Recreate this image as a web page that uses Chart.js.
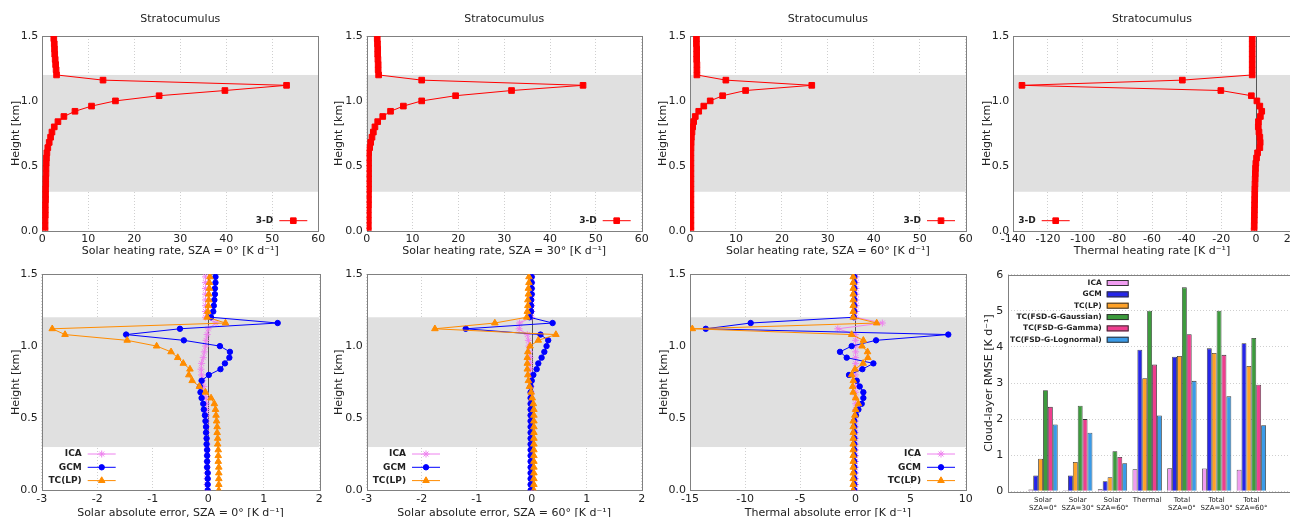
<!DOCTYPE html>
<html>
<head>
<meta charset="utf-8">
<script src="https://cdn.jsdelivr.net/npm/chart.js@4.4.0/dist/chart.umd.min.js"></script>
<style>
html,body{margin:0;padding:0;background:#fff;overflow:hidden;width:1290px;height:517px;position:relative}
canvas{position:absolute}
</style>
</head>
<body>
<canvas id="c1"></canvas><canvas id="c2"></canvas><canvas id="c3"></canvas><canvas id="c4"></canvas>
<canvas id="c5"></canvas><canvas id="c6"></canvas><canvas id="c7"></canvas><canvas id="c8"></canvas>
<script>
const FONT = "'DejaVu Sans', Verdana, sans-serif";
Chart.defaults.font.family = FONT;
Chart.defaults.color = '#222';

// model levels [km]
const heights = [0.00,0.04,0.08,0.12,0.16,0.20,0.24,0.28,0.32,0.36,0.40,0.44,0.48,0.52,0.56,0.60,0.64,0.68,0.72,0.76,
                 0.80,0.84,0.88,0.92,0.96,1.00,1.04,1.08,1.12,1.16,1.20,1.24,1.28,1.32,1.36,1.40,1.44,1.48];
const cloudLayer = [0.3, 1.2];

// 3-D reference heating rates [K/d]
const solar3dSza0  = [0.6,0.6,0.6,0.65,0.65,0.65,0.7,0.7,0.7,0.75,0.75,0.8,0.8,0.85,0.9,1.0,1.2,1.5,1.8,2.1,
                      2.6,3.4,4.7,7.1,10.7,15.9,25.4,39.7,53.1,13.2,3.1,3.0,2.9,2.8,2.7,2.65,2.6,2.5];
const solar3dSza30 = [0.35,0.35,0.35,0.35,0.35,0.38,0.38,0.38,0.4,0.4,0.4,0.4,0.4,0.4,0.4,0.43,0.65,0.87,1.15,1.45,
                      1.8,2.4,3.5,5.2,8.0,12.0,19.4,31.6,47.2,12.0,2.6,2.5,2.5,2.45,2.4,2.4,2.35,2.3];
const solar3dSza60 = [0.2,0.2,0.2,0.2,0.2,0.2,0.2,0.2,0.2,0.2,0.2,0.2,0.2,0.2,0.2,0.2,0.22,0.25,0.3,0.43,
                      0.58,0.8,1.15,1.9,3.0,4.4,7.1,12.1,26.5,7.8,1.5,1.5,1.5,1.45,1.45,1.45,1.4,1.4];
const thermal3d    = [-1.1,-1.05,-1.0,-0.95,-0.9,-0.85,-0.8,-0.75,-0.7,-0.6,-0.5,-0.4,-0.3,-0.1,0.3,0.9,2.2,2.4,2.2,1.7,
                      1.3,1.4,2.5,3.3,2.2,0.5,-2.7,-20.3,-135,-42.5,-2.2,-2.2,-2.2,-2.2,-2.2,-2.2,-2.2,-2.2];

// absolute errors [K/d]
const errSza0Ica = [-0.02,-0.02,-0.02,-0.02,-0.02,-0.02,-0.02,-0.02,-0.02,-0.03,-0.03,-0.03,-0.03,-0.03,-0.03,-0.03,-0.04,-0.06,-0.08,-0.1,
                    -0.12,-0.13,-0.12,-0.09,-0.07,-0.05,-0.04,-0.02,0.0,0.14,-0.05,-0.05,-0.05,-0.05,-0.05,-0.05,-0.05,-0.05];
const errSza0Gcm = [-0.01,-0.01,-0.01,-0.01,-0.02,-0.02,-0.02,-0.02,-0.03,-0.03,-0.04,-0.04,-0.05,-0.06,-0.08,-0.09,-0.12,-0.14,-0.15,-0.12,
                    0.01,0.22,0.3,0.38,0.39,0.21,-0.44,-1.48,-0.51,1.25,0.05,0.09,0.1,0.11,0.12,0.12,0.13,0.13];
const errSza0Tc  = [0.19,0.19,0.19,0.19,0.19,0.18,0.18,0.18,0.17,0.17,0.16,0.16,0.15,0.14,0.13,0.11,0.05,-0.05,-0.16,-0.29,
                    -0.35,-0.33,-0.45,-0.55,-0.67,-0.93,-1.46,-2.58,-2.81,0.31,-0.02,-0.01,0.0,0.01,0.01,0.02,0.02,0.03];

const errSza60Ica = [0.0,0.0,0.0,0.0,0.0,0.0,0.0,0.0,0.0,0.0,0.0,0.0,-0.01,-0.01,-0.01,-0.01,-0.01,-0.01,-0.01,-0.01,
                     -0.02,-0.02,-0.03,-0.03,-0.04,-0.05,-0.06,-0.08,-0.23,-0.22,0.0,0.0,0.0,0.0,0.0,0.0,0.0,0.0];
const errSza60Gcm = [-0.02,-0.02,-0.02,-0.02,-0.02,-0.02,-0.02,-0.02,-0.02,-0.02,-0.02,-0.02,-0.02,-0.02,-0.02,-0.02,-0.02,-0.02,-0.02,0.0,
                     0.03,0.09,0.12,0.18,0.23,0.27,0.30,0.16,-1.2,0.38,-0.04,-0.01,-0.01,-0.01,0.0,0.0,0.0,0.0];
const errSza60Tc  = [0.04,0.04,0.04,0.04,0.04,0.04,0.04,0.04,0.04,0.04,0.04,0.04,0.04,0.04,0.04,0.03,0.01,-0.01,-0.04,-0.06,
                     -0.07,-0.08,-0.08,-0.08,-0.07,-0.03,0.12,0.44,-1.76,-0.67,-0.09,-0.08,-0.07,-0.07,-0.06,-0.06,-0.05,-0.05];

const errThIca = [0.0,0.0,0.0,0.0,0.0,0.0,0.0,0.0,0.0,0.0,0.0,0.0,0.0,0.0,0.02,0.02,0.02,0.02,0.02,0.02,
                  0.02,0.02,0.02,0.02,0.02,0.02,0.02,0.0,-1.6,2.44,0.0,0.05,0.05,0.05,0.05,0.05,0.05,0.05];
const errThGcm = [-0.1,-0.1,-0.1,-0.1,-0.1,-0.1,-0.1,-0.1,-0.1,-0.1,-0.1,-0.1,-0.1,0.05,0.27,0.57,0.72,0.72,0.39,0.12,
                  -0.58,0.63,1.63,-0.79,-1.4,-0.34,1.87,8.42,-13.57,-9.5,-0.15,-0.1,-0.1,-0.1,-0.1,-0.1,-0.1,-0.1];
const errThTc  = [-0.2,-0.2,-0.2,-0.2,-0.2,-0.2,-0.2,-0.2,-0.2,-0.2,-0.2,-0.2,-0.2,-0.05,0.02,0.27,0.02,-0.2,-0.25,-0.19,
                  -0.34,-0.04,0.7,1.13,1.1,0.6,0.72,-0.34,-14.79,1.93,-0.2,-0.2,-0.2,-0.2,-0.2,-0.2,-0.2,-0.2];

// cloud-layer RMSE [K/d]
const rmseCats  = [['Solar','SZA=0°'],['Solar','SZA=30°'],['Solar','SZA=60°'],['Thermal'],['Total','SZA=0°'],['Total','SZA=30°'],['Total','SZA=60°']];
const rmseIca   = [0.05,0.03,0.06,0.61,0.64,0.63,0.60];
const rmseGcm   = [0.44,0.44,0.28,3.92,3.73,3.96,4.10];
const rmseLp    = [0.90,0.81,0.39,3.13,3.75,3.83,3.47];
const rmseGauss = [2.80,2.37,1.11,5.00,5.65,5.00,4.25];
const rmseGamma = [2.34,2.00,0.95,3.51,4.35,3.78,2.95];
const rmseLogn  = [1.85,1.62,0.78,2.10,3.06,2.63,1.83];

const RED = '#ff0000', BLUE = '#0000ff', ORANGE = '#ff8c00', VIOLET = '#ee82ee';

function profile(label, vals, color, style, radius, order){
  return {
    label, order, showLine: true,
    data: vals.map((v, i) => ({ x: v, y: heights[i] })),
    borderColor: color, backgroundColor: color, borderWidth: 1,
    pointStyle: style, pointRadius: radius, pointBorderWidth: 1,
    pointBorderColor: color, pointBackgroundColor: color
  };
}

// grey cloud band, zero line and plot frame
const decor = {
  id: 'decor',
  beforeDatasetsDraw(chart, args, o){
    const { ctx, chartArea: a, scales } = chart;
    ctx.save();
    if(o.band){
      const yt = scales.y.getPixelForValue(o.band[1]), yb = scales.y.getPixelForValue(o.band[0]);
      ctx.fillStyle = '#e0e0e0';
      ctx.fillRect(a.left, yt, a.right - a.left, yb - yt);
    }
    if(o.zero){
      const x = Math.round(scales.x.getPixelForValue(0)) + 0.5;
      ctx.strokeStyle = '#555'; ctx.lineWidth = 1;
      ctx.beginPath(); ctx.moveTo(x, a.top); ctx.lineTo(x, a.bottom); ctx.stroke();
    }
    ctx.strokeStyle = '#808080'; ctx.lineWidth = 1;
    ctx.strokeRect(Math.round(a.left) + 0.5, Math.round(a.top) + 0.5, Math.round(a.right - a.left), Math.round(a.bottom - a.top));
    ctx.restore();
  }
};

// gnuplot-style key: label right-aligned, sample to the right
const key = {
  id: 'key',
  afterDatasetsDraw(chart, args, o){
    if(!o || !o.show) return;
    const { ctx, chartArea: a } = chart;
    const xr = a.left + o.dx;
    ctx.save();
    ctx.font = `bold ${o.size}px ${FONT}`;
    ctx.textAlign = 'right'; ctx.textBaseline = 'middle';
    chart.data.datasets.forEach((ds, i) => {
      const y = o.anchor === 'top' ? a.top + o.dy + i * o.step : a.bottom - o.dy + i * o.step;
      ctx.fillStyle = '#222';
      ctx.fillText(ds.label, xr, y);
      if(o.box){
        ctx.fillStyle = ds.backgroundColor; ctx.strokeStyle = '#333'; ctx.lineWidth = 1;
        ctx.fillRect(xr + 5, y - 3, 22, 6);
        ctx.strokeRect(xr + 5.5, y - 2.5, 21, 5);
      } else {
        ctx.strokeStyle = ds.borderColor; ctx.lineWidth = 1;
        ctx.beginPath(); ctx.moveTo(xr + 6, y); ctx.lineTo(xr + 34, y); ctx.stroke();
        ctx.fillStyle = ds.pointBackgroundColor; ctx.strokeStyle = ds.pointBorderColor;
        Chart.helpers.drawPoint(ctx, { pointStyle: ds.pointStyle, radius: ds.pointRadius, rotation: 0, borderWidth: 1 }, xr + 20, y);
      }
    });
    ctx.restore();
  }
};

const LH = 13.2; // 11px * 1.2

function place(id, p){
  const cv = document.getElementById(id);
  const cx = Math.floor(p.l - 36), cy = p.row === 0 ? 0 : 258, ch = p.row === 0 ? 262 : 266;
  const cw = Math.ceil(p.r - cx) + 14;
  cv.width = cw; cv.height = ch;
  cv.style.left = cx + 'px'; cv.style.top = cy + 'px';
  return { cv, cx, cy, cw, ch };
}

function linePanel(id, p){
  const g = place(id, p);
  const titlePadTop = p.title ? 19 - g.cy - LH / 2 : 0;
  new Chart(g.cv, {
    type: 'scatter',
    data: { datasets: p.series },
    options: {
      responsive: false, animation: false, devicePixelRatio: 1,
      layout: { autoPadding: false, padding: { left: 0, right: g.cw - (p.r - g.cx), top: p.title ? 0 : p.t - g.cy, bottom: 0 } },
      plugins: {
        legend: { display: false }, tooltip: { enabled: false },
        title: { display: !!p.title, text: p.title, fullSize: false, color: '#222',
                 font: { size: 11, weight: 'normal' },
                 padding: { top: titlePadTop, bottom: p.t - g.cy - titlePadTop - LH } },
        decor: { band: cloudLayer, zero: p.zero },
        key: Object.assign({ show: true, size: 9, anchor: 'bottom', step: 13.3 }, p.key)
      },
      scales: {
        x: {
          type: 'linear', min: p.xMin, max: p.xMax,
          ticks: { stepSize: p.step, padding: 2, font: { size: 11 }, color: '#222', maxRotation: 0, autoSkip: false },
          grid: { color: '#cfcfcf', drawTicks: false },
          border: { display: false, dash: [1, 2] },
          title: { display: true, text: p.xTitle, color: '#222', font: { size: 11 },
                   padding: { top: 0, bottom: g.cy + g.ch - p.xTitleY - LH / 2 } },
          afterFit: s => { s.height = g.cy + g.ch - p.b; }
        },
        y: {
          type: 'linear', min: 0, max: 1.5,
          ticks: { stepSize: 0.5, padding: 4, font: { size: 11 }, color: '#222', callback: v => v.toFixed(1) },
          grid: { display: false, drawTicks: false }, border: { display: false },
          title: { display: true, text: 'Height [km]', color: '#222', font: { size: 11 },
                   padding: { top: p.yTitleX - g.cx - LH / 2, bottom: 0 } },
          afterFit: s => { s.width = p.l - g.cx; }
        }
      }
    },
    plugins: [decor, key]
  });
}

const topRow = { row: 0, t: 36, b: 230.7, xTitleY: 251, title: 'Stratocumulus' };
const botRow = { row: 1, t: 274, b: 490.3, xTitleY: 513 };
function errSeries(ica, gcm, tc){
  return [
    profile('ICA', ica, VIOLET, 'star', 3.5, 2),
    profile('GCM', gcm, BLUE, 'circle', 2.7, 1),
    profile('TC(LP)', tc, ORANGE, 'triangle', 3.8, 0)
  ];
}

linePanel('c1', Object.assign({}, topRow, { l: 42.3, r: 318.3, yTitleX: 15.8, xMin: 0, xMax: 60, step: 10,
  xTitle: 'Solar heating rate, SZA = 0° [K d⁻¹]', series: [profile('3-D', solar3dSza0, RED, 'rect', 4, 0)],
  key: { dx: 231, dy: 10 } }));
linePanel('c2', Object.assign({}, topRow, { l: 366.7, r: 641.7, yTitleX: 339.5, xMin: 0, xMax: 60, step: 10,
  xTitle: 'Solar heating rate, SZA = 30° [K d⁻¹]', series: [profile('3-D', solar3dSza30, RED, 'rect', 4, 0)],
  key: { dx: 230, dy: 10 } }));
linePanel('c3', Object.assign({}, topRow, { l: 690, r: 965.7, yTitleX: 663.3, xMin: 0, xMax: 60, step: 10,
  xTitle: 'Solar heating rate, SZA = 60° [K d⁻¹]', series: [profile('3-D', solar3dSza60, RED, 'rect', 4, 0)],
  key: { dx: 231, dy: 10 } }));
linePanel('c4', Object.assign({}, topRow, { l: 1013.3, r: 1290.7, yTitleX: 986.8, xMin: -140, xMax: 20, step: 20, zero: true,
  xTitle: 'Thermal heating rate [K d⁻¹]', series: [profile('3-D', thermal3d, RED, 'rect', 4, 0)],
  key: { dx: 22.4, dy: 10 } }));

linePanel('c5', Object.assign({}, botRow, { l: 41.7, r: 319.3, yTitleX: 16.2, xMin: -3, xMax: 2, step: 1, zero: true,
  xTitle: 'Solar absolute error, SZA = 0° [K d⁻¹]', series: errSeries(errSza0Ica, errSza0Gcm, errSza0Tc),
  key: { dx: 40, dy: 36.3 } }));
linePanel('c6', Object.assign({}, botRow, { l: 366.7, r: 641.7, yTitleX: 339.5, xMin: -3, xMax: 2, step: 1, zero: true,
  xTitle: 'Solar absolute error, SZA = 60° [K d⁻¹]', series: errSeries(errSza60Ica, errSza60Gcm, errSza60Tc),
  key: { dx: 39.3, dy: 36.3 } }));
linePanel('c7', Object.assign({}, botRow, { l: 690, r: 965.7, yTitleX: 663.7, xMin: -15, xMax: 10, step: 5, zero: true,
  xTitle: 'Thermal absolute error [K d⁻¹]', series: errSeries(errThIca, errThGcm, errThTc),
  key: { dx: 231, dy: 36.3 } }));

// RMSE bar chart
(function(){
  const xMax = 8.15;
  const p = { row: 1, l: 1008.3, r: 1008.3 + 34.72 * xMax, t: 274.7, b: 491.3, yTitleX: 988.7 };
  const g = place('c8', p);
  const bars = (label, vals, color) => ({
    label, backgroundColor: color, borderColor: '#333', borderWidth: 0.8,
    data: vals.map((v, i) => ({ x: i + 1, y: v }))
  });
  new Chart(g.cv, {
    type: 'bar',
    data: { datasets: [
      bars('ICA', rmseIca, '#f09cf0'),
      bars('GCM', rmseGcm, '#2525e8'),
      bars('TC(LP)', rmseLp, '#ffa126'),
      bars('TC(FSD-G-Gaussian)', rmseGauss, '#3d9b3d'),
      bars('TC(FSD-G-Gamma)', rmseGamma, '#ee3e8e'),
      bars('TC(FSD-G-Lognormal)', rmseLogn, '#3a9be8')
    ] },
    options: {
      responsive: false, animation: false, devicePixelRatio: 1,
      categoryPercentage: 0.845, barPercentage: 1,
      layout: { autoPadding: false, padding: { left: 0, right: g.cw - (p.r - g.cx), top: p.t - g.cy, bottom: 0 } },
      plugins: {
        legend: { display: false }, tooltip: { enabled: false },
        decor: { band: null, zero: false },
        key: { show: true, box: true, size: 7.5, anchor: 'top', dx: 93.4, dy: 8.3, step: 11.35 }
      },
      scales: {
        x: {
          type: 'linear', min: 0, max: xMax, offset: false,
          afterBuildTicks: s => { s.ticks = rmseCats.map((c, i) => ({ value: i + 1 })); },
          ticks: { padding: 5, autoSkip: false, maxRotation: 0, color: '#222',
                   font: { size: 7, lineHeight: 1.1 }, callback: v => rmseCats[v - 1] || '' },
          grid: { display: false, offset: false, drawTicks: false }, border: { display: false },
          afterFit: s => { s.height = g.cy + g.ch - p.b; }
        },
        y: {
          min: 0, max: 6,
          ticks: { stepSize: 1, padding: 5, font: { size: 11 }, color: '#222' },
          grid: { color: '#cfcfcf', drawTicks: false }, border: { display: false, dash: [1, 2] },
          title: { display: true, text: 'Cloud-layer RMSE [K d⁻¹]', color: '#222', font: { size: 11 },
                   padding: { top: p.yTitleX - g.cx - LH / 2, bottom: 0 } },
          afterFit: s => { s.width = p.l - g.cx; }
        }
      }
    },
    plugins: [decor, key]
  });
})();
</script>
</body>
</html>
